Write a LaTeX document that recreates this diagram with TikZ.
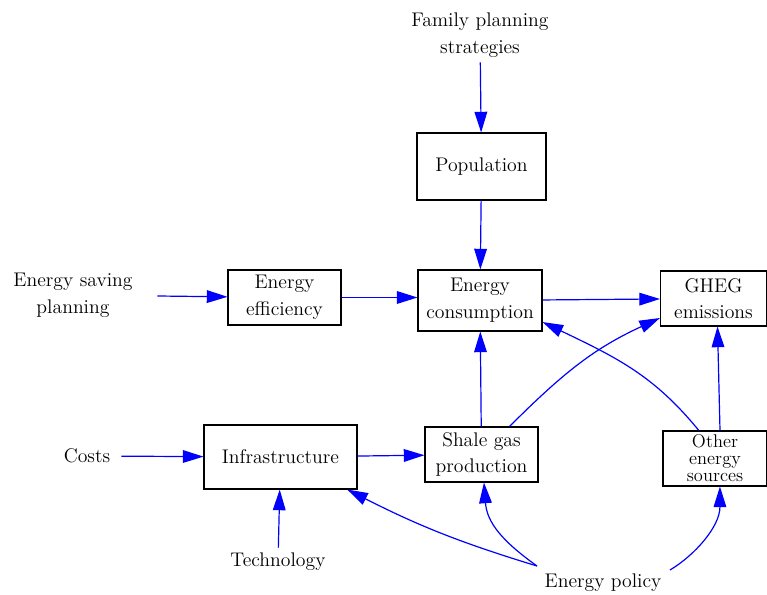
\documentclass[tikz,border=0pt]{standalone}
\usetikzlibrary{arrows.meta,calc}
\begin{document}
\begin{tikzpicture}[x=0.75pt,y=0.75pt,
  every node/.style={font=\fontsize{14.8}{20}\selectfont, inner sep=0pt, align=center},
  box/.style={draw=black, line width=0.8pt, rectangle},
  edge/.style={draw=blue, line width=0.9pt, -{Triangle[length=15.5pt,width=9.5pt]}},
]
\useasboundingbox (0,0) rectangle (767,-595);
% boxes
\node[box, minimum width=96.75pt, minimum height=50.25pt] (pop) at (481.5,-166.5) {Population};
\node[box, minimum width=93pt, minimum height=45.75pt] (cons) at (480,-300.5) {Energy\\consumption};
\node[box, minimum width=84.75pt, minimum height=41.25pt] (eff) at (284.5,-297.5) {Energy\\efficiency};
\node[box, minimum width=79.5pt, minimum height=41.25pt] (gheg) at (713.5,-298.5) {GHEG\\emissions};
\node[box, minimum width=114.75pt, minimum height=48pt] (infra) at (280.5,-457) {Infrastructure};
\node[box, minimum width=84.75pt, minimum height=41.25pt] (shale) at (481.5,-454.5) {Shale gas\\production};
\node[box, minimum width=78pt, minimum height=41.25pt, font=\fontsize{13.8}{12.8}\selectfont] (other) at (715,-458.5) {Other\\energy\\sources};
% plain text nodes
\node[minimum height=40.5pt] (fam) at (480,-35) {Family planning\\strategies};
\node[minimum width=126pt] (esp) at (73,-295) {Energy saving\\planning};
\node[minimum width=51pt] (costs) at (87,-456) {Costs};
\node[minimum height=21pt] (tech) at (278,-562) {Technology};
\node (policy) at (603,-583) {Energy policy};
\coordinate (pw) at ($(policy)+(-66,17)$);
\coordinate (pe) at ($(policy)+(67,13)$);
% connectors
\draw[edge] (fam) -- (pop);
\draw[edge] (pop) -- (cons);
\draw[edge] (esp) -- (eff);
\draw[edge] (eff.east) -- (eff.east -| cons.west);
\draw[edge] (cons) -- (gheg);
\draw[edge] (shale) -- (cons);
\draw[edge] (shale.45) .. controls +(55,55) and +(-65,-30) .. (gheg.200);
\draw[edge] (other.120) .. controls +(-45,55) and +(75,-36) .. (cons.-19);
\draw[edge] ($(other.north)+(5,0)$) -- ($(gheg.south)+(4,0)$);
\draw[edge] (costs) -- (infra);
\draw[edge] (tech) -- (infra);
\draw[edge] (infra) -- (shale);
\draw[edge] (pw) to[bend left=5] (infra.-26.7);
\draw[edge] (pw) .. controls +(-35,25) and +(3,-40) .. (shale.-85);
\draw[edge] (pe) .. controls +(25,15) and +(0,-40) .. (other.-80);
\end{tikzpicture}
\end{document}
